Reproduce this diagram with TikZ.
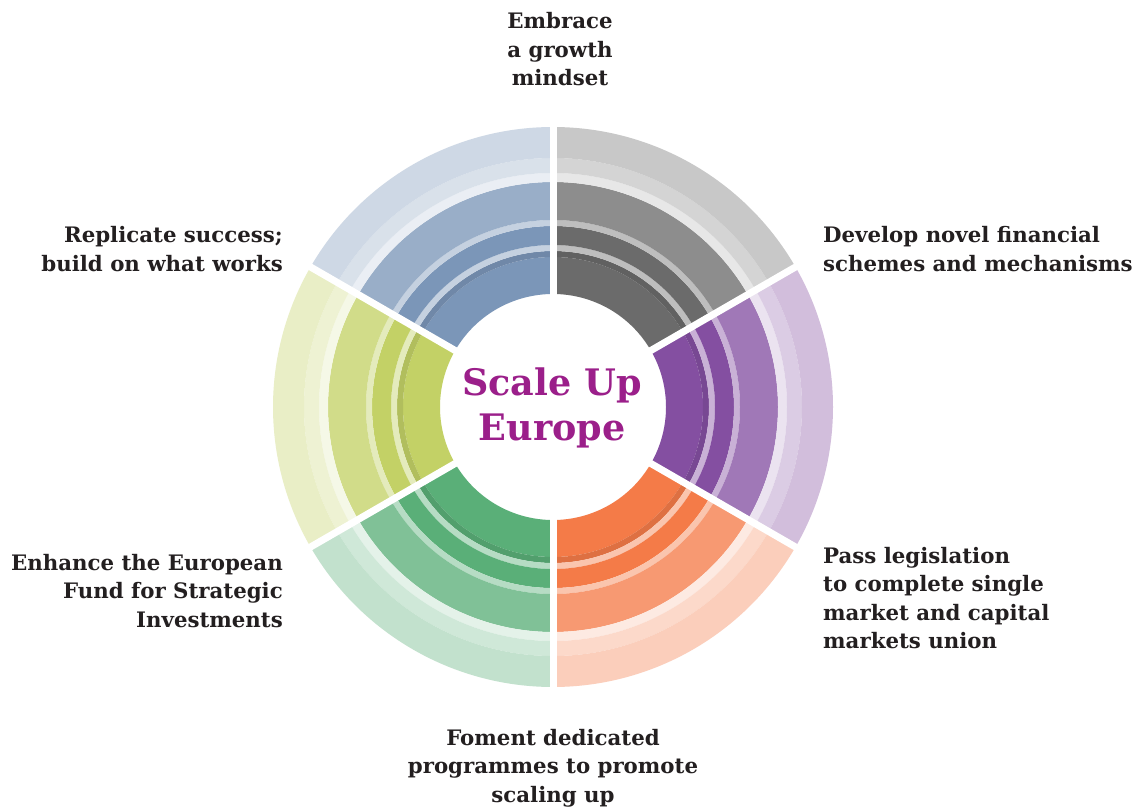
\documentclass[tikz,border=0pt]{standalone}
\usepackage{fontspec}
\setmainfont{DejaVu Serif}
\definecolor{cgray}{HTML}{6B6B6B}
\definecolor{cblue}{HTML}{7B96B8}
\definecolor{cpurple}{HTML}{844FA1}
\definecolor{corange}{HTML}{F47B48}
\definecolor{cgreen}{HTML}{5AAF78}
\definecolor{cyellow}{HTML}{C3D166}
\definecolor{ctext}{HTML}{231F20}
\definecolor{ctitle}{HTML}{9B1F8A}
\newcommand\ringband[5]{\fill[#5] (#1:#3) arc[start angle=#1,end angle=#2,radius=#3] -- (#2:#4) arc[start angle=#2,end angle=#1,radius=#4] -- cycle;}
\newcommand\wheelsector[3]{%
 \ringband{#1}{#2}{113}{150}{#3}%
 \ringband{#1}{#2}{150}{156}{#3!91!black}%
 \ringband{#1}{#2}{156}{162}{#3!44!white}%
 \ringband{#1}{#2}{162}{181}{#3}%
 \ringband{#1}{#2}{181}{187}{#3!44!white}%
 \ringband{#1}{#2}{187}{225}{#3!77!white}%
 \ringband{#1}{#2}{225}{234}{#3!16!white}%
 \ringband{#1}{#2}{234}{249}{#3!29!white}%
 \ringband{#1}{#2}{249}{280}{#3!37!white}%
}
\tikzset{
 lab/.style={inner sep=0pt, text=ctext, font=\fontsize{21.3}{28.5}\selectfont\bfseries},
 ttl/.style={inner sep=0pt, text=ctitle, font=\fontsize{36.5}{45}\selectfont\bfseries},
 gapline/.style={white, line width=7pt}
}
\begin{document}
\begin{tikzpicture}[x=1pt,y=1pt]
\fill[white] (0,0) rectangle (1145,807);
\useasboundingbox (0,0) rectangle (1145,807);
\begin{scope}[shift={(553,400)}]
 \wheelsector{30}{90}{cgray}
 \wheelsector{-30}{30}{cpurple}
 \wheelsector{-90}{-30}{corange}
 \wheelsector{-150}{-90}{cgreen}
 \wheelsector{150}{210}{cyellow}
 \wheelsector{90}{150}{cblue}
 \foreach \a in {90,30,-30,-90,-150,150} \draw[gapline] (0,0) -- (\a:295);
\end{scope}
\node[ttl, anchor=base] (title1) at (552,412) {Scale Up};
\node[ttl, anchor=base] (title2) at (552,367) {Europe};
\node[lab, anchor=base] (top) at (560,778) {\begin{tabular}[t]{@{}c@{}}Embrace\\a growth\\mindset\end{tabular}};
\node[lab, anchor=base west] (ur) at (823,564) {\begin{tabular}[t]{@{}l@{}}Develop novel financial\\schemes and mechanisms\end{tabular}};
\node[lab, anchor=base east] (ul) at (283,564) {\begin{tabular}[t]{@{}r@{}}Replicate success;\\build on what works\end{tabular}};
\node[lab, anchor=base west] (lr) at (823,244) {\begin{tabular}[t]{@{}l@{}}Pass legislation\\to complete single\\market and capital\\markets union\end{tabular}};
\node[lab, anchor=base east] (ll) at (283,237) {\begin{tabular}[t]{@{}r@{}}Enhance the European\\Fund for Strategic\\Investments\end{tabular}};
\node[lab, anchor=base] (bot) at (553,62) {\begin{tabular}[t]{@{}c@{}}Foment dedicated\\programmes to promote\\scaling up\end{tabular}};
\end{tikzpicture}
\end{document}
